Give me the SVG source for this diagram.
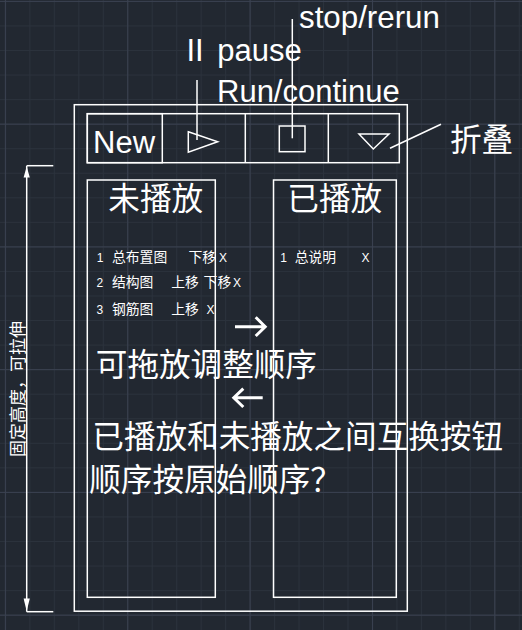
<svg xmlns="http://www.w3.org/2000/svg" width="522" height="630" viewBox="0 0 522 630">
<defs>
<pattern id="minor" x="4.9" y="0.9" width="24.47" height="24.55" patternUnits="userSpaceOnUse">
<path d="M0.5 0V24.55M0 0.5H24.47" fill="none" stroke="#2b323c" stroke-width="1"/>
</pattern>
<pattern id="major" x="4.9" y="0.9" width="122.35" height="122.75" patternUnits="userSpaceOnUse">
<path d="M0.5 0V122.75M0 0.5H122.35" fill="none" stroke="#3a4150" stroke-width="1"/>
</pattern>
<style>
.ln{fill:none;stroke:#ffffff;stroke-width:1.5}
.lat{font-family:"Liberation Sans",Arial,"Noto Sans CJK SC",sans-serif;fill:#ffffff}
.cjk{font-family:"Noto Sans CJK SC","Liberation Sans",sans-serif;fill:#ffffff}
.big{font-size:31px}
.bigc{font-size:31.6px}
.sm{font-size:13.8px}
.dg{font-size:12px}
.arw{fill:none;stroke:#ffffff;stroke-width:3;stroke-linecap:butt;stroke-linejoin:miter}
</style>
</defs>
<rect width="522" height="630" fill="#222831"/>
<rect width="522" height="630" fill="url(#minor)"/>
<rect width="522" height="630" fill="url(#major)"/>

<g id="frame"><rect class="ln" x="74.3" y="104.7" width="333" height="506.5"/></g>

<g id="toolbar"><rect class="ln" x="87.3" y="113.7" width="312" height="49"/></g>
<g id="btn-new">
<rect class="ln" x="87.3" y="113.7" width="75" height="49"/>
<text class="lat big" x="93" y="153">New</text>
</g>
<g id="btn-play">
<line class="ln" x1="245.3" y1="113.7" x2="245.3" y2="162.7"/>
<polygon class="ln" points="188.3,131.7 217.7,141.7 188.3,152.3"/>
</g>
<g id="btn-stop">
<line class="ln" x1="328.3" y1="113.7" x2="328.3" y2="162.7"/>
<rect class="ln" x="279.3" y="126" width="25.7" height="25.7"/>
</g>
<g id="btn-fold">
<polygon class="ln" points="359,134 389,134 373.3,149"/>
</g>

<g id="label-stop"><text class="lat" font-size="31.3" x="299" y="28.4">stop/rerun</text></g>
<g id="label-pause"><text class="lat big" x="186.5" y="60.7" word-spacing="5">II pause</text></g>
<g id="label-run"><text class="lat big" x="217" y="101.5">Run/continue</text></g>
<g id="label-fold"><text class="cjk bigc" x="450" y="151">折叠</text></g>

<g id="list-unplayed">
<rect class="ln" x="87.3" y="180" width="128" height="417.3"/>
<text class="cjk bigc" x="108.3" y="209.5">未播放</text>
<text class="lat dg" x="96.8" y="262">1</text>
<text class="cjk sm" x="112" y="262">总布置图</text>
<text class="cjk sm" x="188.5" y="262">下移</text>
<text class="lat dg" x="219" y="262">X</text>
<text class="lat dg" x="96.5" y="287">2</text>
<text class="cjk sm" x="112" y="287">结构图</text>
<text class="cjk sm" x="171.3" y="287">上移</text>
<text class="cjk sm" x="203.6" y="287">下移</text>
<text class="lat dg" x="233" y="287">X</text>
<text class="lat dg" x="96.5" y="313.5">3</text>
<text class="cjk sm" x="112" y="313.5">钢筋图</text>
<text class="cjk sm" x="171.3" y="313.5">上移</text>
<text class="lat dg" x="206.5" y="313.5">X</text>
</g>

<g id="list-played">
<rect class="ln" x="273.5" y="180" width="122.8" height="417.3"/>
<text class="cjk bigc" x="287.3" y="209.5">已播放</text>
<text class="lat dg" x="280.3" y="262">1</text>
<text class="cjk sm" x="294.7" y="262">总说明</text>
<text class="lat dg" x="361.5" y="262">X</text>
</g>

<g id="notes">
<text class="cjk bigc" x="95.8" y="376">可拖放调整顺序</text>
<text class="cjk bigc" x="92.3" y="447.8">已播放和未播放之间互换按钮</text>
<text class="cjk bigc" x="89.2" y="491">顺序按原始顺序？</text>
</g>

<g id="dimension-label">
<text class="cjk" font-size="17" text-anchor="middle" transform="translate(23.5 389) rotate(-90)">固定高度，可拉伸</text>
</g>

<g id="connectors">
<line class="ln" x1="197" y1="80" x2="197" y2="140"/>
<line class="ln" x1="292.3" y1="19" x2="292.3" y2="138.3"/>
<line class="ln" x1="390" y1="148.3" x2="441" y2="124.3"/>
<path class="arw" d="M235 326.7H264.5M255.7 317.3L265.2 326.7L255.7 336"/>
<path class="arw" d="M262.7 397.7H233M243.3 388.6L233.8 397.7L243.3 407"/>
<line class="ln" x1="26.7" y1="165.7" x2="26.7" y2="611.7"/>
<line class="ln" x1="26.7" y1="165.7" x2="53.3" y2="165.7"/>
<line class="ln" x1="26.7" y1="611.7" x2="53.3" y2="611.7"/>
<polygon fill="#ffffff" points="26.7,166.5 29.8,177.5 23.6,177.5"/>
<polygon fill="#ffffff" points="26.7,611 29.8,598.5 23.6,598.5"/>
</g>
</svg>
